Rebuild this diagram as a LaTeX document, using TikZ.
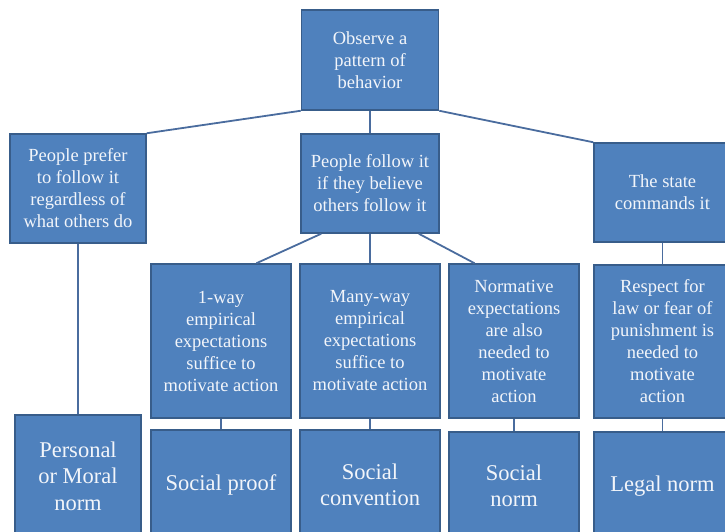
\documentclass[tikz,border=0pt]{standalone}
\usepackage{fontspec}
\setmainfont{Liberation Serif}
\usepackage{tikz}
\usetikzlibrary{calc}
\definecolor{boxblue}{HTML}{4F81BD}
\definecolor{boxedge}{HTML}{385D8A}
\definecolor{linkblue}{HTML}{4A6C9E}
\definecolor{boxtext}{HTML}{F2F5FA}

\begin{document}
\begin{tikzpicture}[x=1pt,y=-1pt]
  \tikzset{normbox/.style 2 args={minimum width=#1,minimum height=#2,fill=boxblue,draw=boxedge,line width=1.5pt,
             text=boxtext,align=center,inner sep=2pt,font=\fontsize{18.5}{22}\selectfont},
           bigbox/.style 2 args={normbox={#1}{#2},font=\fontsize{22.5}{26.5}\selectfont},
           link/.style={linkblue,line width=1.8pt}}
  \useasboundingbox (0,0) rectangle (725,531);
  \clip (0,0) rectangle (725,531);
  \node[normbox={137pt}{100pt}] (observe) at (370,60) {Observe a\\pattern of\\behavior};

  \node[normbox={136pt}{109pt}] (prefer) at (78,188.5) {People prefer\\to follow it\\regardless of\\what others do};
  \node[normbox={138pt}{99pt}] (follow) at (370,183.5) {People follow it\\if they believe\\others follow it};
  \node[normbox={137pt}{99pt}] (state) at (662.5,192.5) {The state\\commands it};

  \node[normbox={140pt}{154pt}] (oneway) at (221,341) {1-way\\empirical\\expectations\\suffice to\\motivate action};
  \node[normbox={140pt}{154pt}] (manyway) at (370,341) {Many-way\\empirical\\expectations\\suffice to\\motivate action};
  \node[normbox={130pt}{154pt}] (normexp) at (514,341) {Normative\\expectations\\are also\\needed to\\motivate\\action};
  \node[normbox={137pt}{153pt}] (respect) at (662.5,341.5) {Respect for\\law or fear of\\punishment is\\needed to\\motivate\\action};

  \node[bigbox={126pt}{122pt}] (personal) at (78,476) {Personal\\or Moral\\norm};
  \node[bigbox={140pt}{110pt}] (proof) at (221,485) {Social proof};
  \node[bigbox={140pt}{110pt}] (convention) at (370,485) {Social\\convention};
  \node[bigbox={130pt}{108pt}] (socnorm) at (514,486) {Social\\norm};
  \node[bigbox={137pt}{108pt}] (legal) at (662.5,486) {Legal norm};

  \draw[link] (observe.south west) -- (prefer.north east);
  \draw[link] (observe.south) -- (follow.north);
  \draw[link] (observe.south east) -- (state.north west);
  \draw[link] ($(follow.south)!0.7!(follow.south west)$) -- ($(oneway.north)!0.5!(oneway.north east)$);
  \draw[link] (follow.south) -- (manyway.north);
  \draw[link] ($(follow.south)!0.7!(follow.south east)$) -- ($(normexp.north)!0.6!(normexp.north west)$);
  \draw[link] (state.south) -- (respect.north);
  \draw[link] (prefer.south) -- (personal.north);
  \draw[link] (oneway.south) -- (proof.north);
  \draw[link] (manyway.south) -- (convention.north);
  \draw[link] (normexp.south) -- (socnorm.north);
  \draw[link] (respect.south) -- (legal.north);
\end{tikzpicture}
\end{document}
